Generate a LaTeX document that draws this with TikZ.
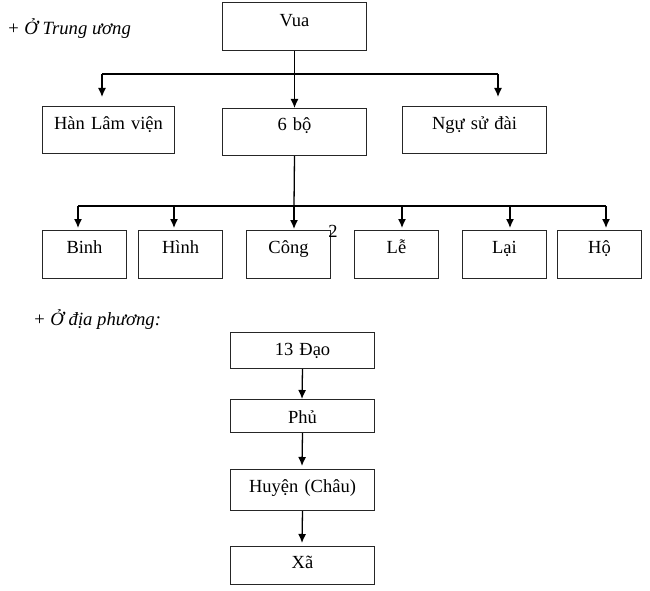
\documentclass[tikz,border=0pt]{standalone}
\usepackage{fontspec}
\setmainfont{Liberation Serif}
\usetikzlibrary{arrows.meta}
\begin{document}
\begin{tikzpicture}[x=1pt,y=-1pt,
  every node/.style={font=\fontsize{18.5}{20}\selectfont},
  box/.style={draw=black!85, line width=1pt, inner sep=0pt, align=center, anchor=north west},
  conn/.style={line width=1.3pt},
  arr/.style={line width=1.3pt, -{Latex[length=9pt,width=8pt]}},
  lbl/.style={font=\fontsize{18.7}{20}\selectfont\itshape, anchor=base west, inner sep=0pt}]
\useasboundingbox (0,0) rectangle (650,591);
% labels
\node[lbl] (lt) at (7,35) {+ Ở Trung ương};
\node[lbl] (ld) at (33,325) {+ Ở địa phương:};
% top level
\node[box, text width=144pt, text height=24pt, text depth=24pt] (vua) at (222,2) {Vua};
\node[box, text width=132pt, text height=23pt, text depth=24pt] (han) at (42,106) {Hàn Lâm viện};
\node[box, text width=144pt, text height=22pt, text depth=25pt] (sixbo) at (222,108) {6 bộ};
\node[box, text width=144pt, text height=23pt, text depth=24pt] (ngu) at (402,106) {Ngự sử đài};
% six ministries
\node[box, text width=84pt, text height=23pt, text depth=25pt] (binh) at (42,230) {Binh};
\node[box, text width=84pt, text height=23pt, text depth=25pt] (hinh) at (138,230) {Hình};
\node[box, text width=84pt, text height=23pt, text depth=25pt] (cong) at (246,230) {Công};
\node[box, text width=84pt, text height=23pt, text depth=25pt] (le) at (354,230) {Lễ};
\node[box, text width=84pt, text height=23pt, text depth=25pt] (lai) at (462,230) {Lại};
\node[box, text width=84pt, text height=23pt, text depth=25pt] (ho) at (557,230) {Hộ};
\node[inner sep=0pt] (two) at (333,231) {2};
% local
\node[box, text width=144pt, text height=23pt, text depth=13pt] (dao) at (230,332) {13 Đạo};
\node[box, text width=144pt, text height=24pt, text depth=9pt] (phu) at (230,399) {Phủ};
\node[box, text width=144pt, text height=23pt, text depth=18pt] (huyen) at (230,469) {Huyện (Châu)};
\node[box, text width=144pt, text height=22pt, text depth=16pt] (xa) at (230,546) {Xã};
% coordinates
\coordinate (hl) at (102,74);
\coordinate (hr) at (498,74);
\coordinate (hlt) at (102,97);
\coordinate (hrt) at (498,97);
\coordinate (bl) at (78,206);
\coordinate (br) at (606,206);
\coordinate (bmid) at (294,206);
\coordinate (t1) at (78,228);
\coordinate (t2) at (174,228);
\coordinate (t3) at (294,229);
\coordinate (t4) at (402,228);
\coordinate (t5) at (510,228);
\coordinate (t6) at (606,228);
\coordinate (a2) at (174,206);
\coordinate (a4) at (402,206);
\coordinate (a5) at (510,206);
\coordinate (phuT) at (302,399);
\coordinate (huyT) at (302,466);
\coordinate (xaT) at (302,543);
% connectors top
\draw[arr] (vua.south) -- (sixbo.north);
\draw[conn] (hl) -- (hr);
\draw[arr] (hl) -- (hlt);
\draw[arr] (hr) -- (hrt);
% connectors ministries
\draw[conn] (sixbo.south) -- (bmid);
\draw[conn] (bl) -- (br);
\draw[arr] (bl) -- (t1);
\draw[arr] (a2) -- (t2);
\draw[arr] (bmid) -- (t3);
\draw[arr] (a4) -- (t4);
\draw[arr] (a5) -- (t5);
\draw[arr] (br) -- (t6);
% local connectors
\draw[arr] (dao.south) -- (phuT);
\draw[arr] (phu.south) -- (huyT);
\draw[arr] (huyen.south) -- (xaT);
\end{tikzpicture}
\end{document}
